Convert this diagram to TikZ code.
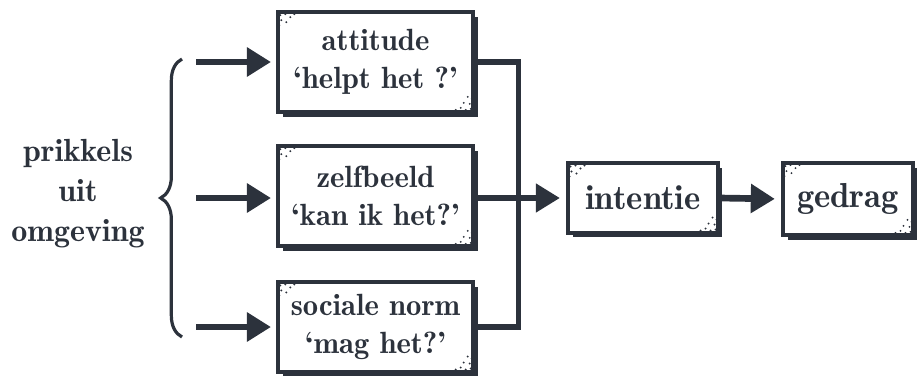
\documentclass[tikz,border=0pt]{standalone}
\usetikzlibrary{arrows.meta,decorations.pathreplacing,shadows,calc}
\definecolor{ink}{RGB}{44,50,60}
\newcommand\boxspecks[1]{%
  \foreach \dx/\dy in {4/5,9/4,5/10,14/7,3/15,10/12,18/4}
    \fill[ink] ($(#1.north west)+(\dx,\dy)$) circle (0.8pt);
  \foreach \dx/\dy in {-4/-5,-9/-4,-5/-10,-14/-6,-3/-15,-11/-11,-19/-4,-7/-17}
    \fill[ink] ($(#1.south east)+(\dx,\dy)$) circle (0.8pt);
}
\begin{document}
\begin{tikzpicture}[x=0.75pt,y=-0.75pt,
  box/.style={draw=ink, line width=2.8pt, fill=white, inner sep=0pt,
    align=center, text=ink, font=\fontsize{23}{29}\fontseries{b}\selectfont,
    general shadow={fill=ink, shadow xshift=3.5pt, shadow yshift=-3.5pt}},
  conn/.style={draw=ink, line width=3.8pt},
  bigarrow/.style={draw=ink, line width=5pt,
    -{Triangle[length=18pt,width=21pt]}},
  label/.style={text=ink, align=center, font=\fontsize{24}{30}\fontseries{b}\selectfont}]
\useasboundingbox (0,0) rectangle (920,378);

\node[label] (prik) at (78,194) {prikkels\\uit\\omgeving};

\node[box, minimum width=146pt, minimum height=75pt] (att) at (375.5,62)
  {attitude\\‘helpt het ?’};
\node[box, minimum width=146pt, minimum height=75pt] (zelf) at (375.5,196)
  {zelfbeeld\\‘kan ik het?’};
\node[box, minimum width=146pt, minimum height=67pt] (soc) at (375.5,327)
  {sociale norm\\‘mag het?’};
\node[box, minimum width=112pt, minimum height=52pt,
  font=\fontsize{26}{30}\fontseries{b}\selectfont] (int) at (643,198) {intentie};
\node[box, minimum width=97pt, minimum height=54pt,
  font=\fontsize{26}{30}\fontseries{b}\selectfont] (ged) at (848,199) {gedrag};

\boxspecks{att}
\boxspecks{zelf}
\boxspecks{soc}
\boxspecks{int}
\boxspecks{ged}

% brace
\draw[ink, line width=2.4pt, decorate, decoration={brace, amplitude=16pt}]
  (182,337) -- (182,59);

% arrows from the brace
\coordinate (s1) at (196,62);
\coordinate (s2) at (196,198);
\coordinate (s3) at (196,327);
\draw[bigarrow, shorten >=4pt] (s1) -- (att.west);
\draw[bigarrow, shorten >=4pt] (s2) -- (s2 -| zelf.west);
\draw[bigarrow, shorten >=4pt] (s3) -- (soc.west);

% bus connector
\draw[conn, line join=miter] (att.east) -- ++(44,0) |- (soc.east);
\draw[conn, -{Triangle[length=18pt,width=21pt]}, shorten >=5pt]
  (zelf.east |- int.west) -- (int.west);
\draw[bigarrow, shorten >=5pt] (int.east) -- (ged.west);
\end{tikzpicture}
\end{document}
